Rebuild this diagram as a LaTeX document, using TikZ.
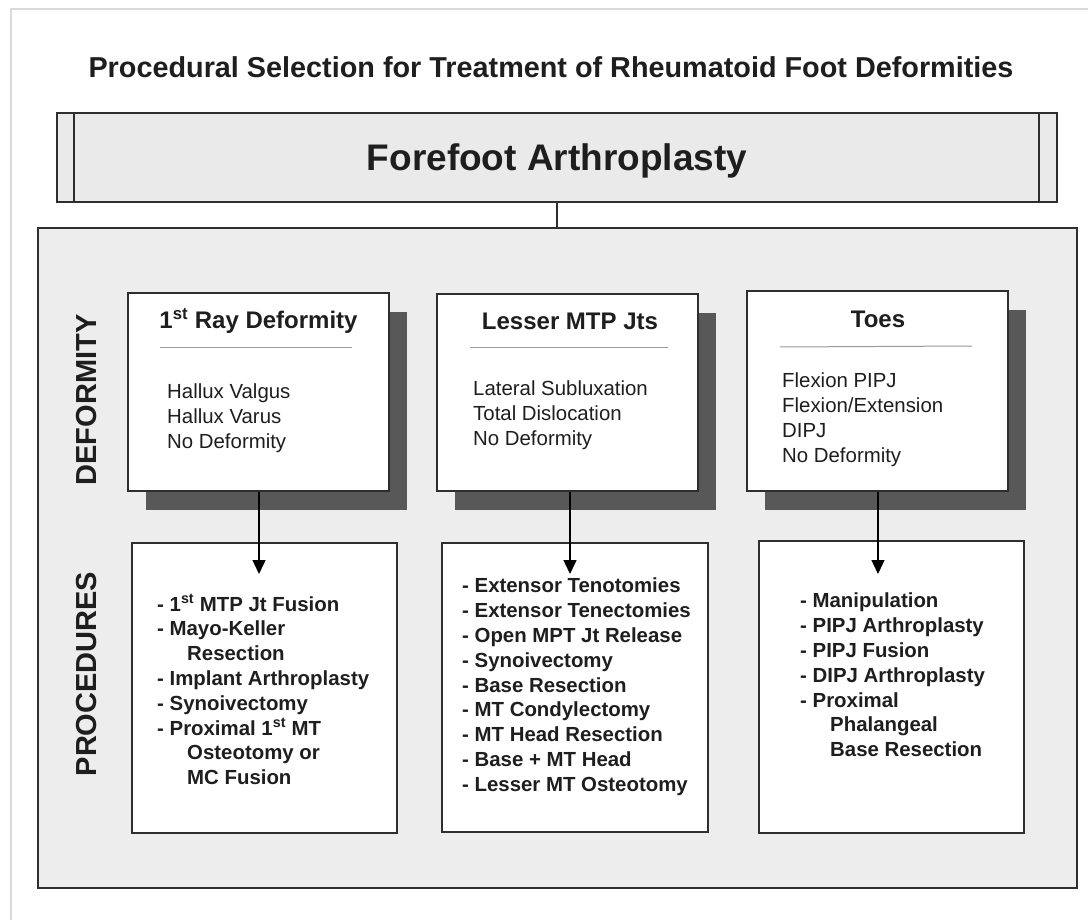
\documentclass[tikz,border=0pt]{standalone}
\usepackage{fontspec}
\setmainfont{Liberation Sans}
\usetikzlibrary{shadows,arrows.meta,calc}
\definecolor{panelc}{HTML}{EDEDED}
\definecolor{bannerc}{HTML}{EAEAEA}
\definecolor{shadowc}{HTML}{585858}
\definecolor{linec}{HTML}{2E2E2E}
\definecolor{textc}{HTML}{1E1E1E}
\definecolor{framec}{HTML}{DADADA}
\definecolor{sepc}{HTML}{9A9A9A}
\tikzset{
  frameline/.style={draw=framec, line width=1.5pt},
  pagetitle/.style={font=\bfseries\fontsize{28.8}{34}\selectfont, text=textc, inner sep=0pt},
  banner/.style={draw=linec, line width=2pt, fill=bannerc, minimum width=1000pt, minimum height=89pt, inner sep=0pt},
  bannertext/.style={font=\bfseries\fontsize{37}{44}\selectfont, text=textc, inner sep=0pt},
  panel/.style={draw=linec, line width=1.5pt, fill=panelc, minimum width=1039pt, minimum height=660pt, inner sep=0pt},
  defbox/.style={draw=linec, line width=1.5pt, fill=white, inner sep=0pt,
     drop shadow={shadow xshift=18pt, shadow yshift=-19pt, fill=shadowc, opacity=1}},
  procbox/.style={draw=linec, line width=1.5pt, fill=white, inner sep=0pt},
  dtitle/.style={font=\bfseries\fontsize{24}{28}\selectfont, text=textc, inner sep=0pt},
  items/.style={font=\fontsize{20.4}{24.8}\selectfont, text=textc, align=left, inner sep=0pt, anchor=north west},
  plist/.style={font=\bfseries\fontsize{20.4}{24.8}\selectfont, text=textc, align=left, inner sep=0pt, anchor=north west},
  vlabel/.style={font=\bfseries\fontsize{29}{34}\selectfont, text=textc, rotate=90, inner sep=0pt},
  sepline/.style={draw=sepc, line width=1pt},
  conn/.style={draw=linec, line width=1.5pt},
  arr/.style={draw=black, line width=1.5pt, -{Triangle[length=14pt,width=13pt]}}
}
\newcommand{\ind}{\hspace*{30pt}}
\begin{document}
\begin{tikzpicture}[x=1pt,y=-1pt]
\useasboundingbox (0,0) rectangle (1088,920);
\fill[white] (0,0) rectangle (1088,920);
% faint page frame
\draw[frameline] (11,920) -- (11,9) -- (1088,9);

\node[pagetitle] (ttl) at (551,67) {Procedural Selection for Treatment of Rheumatoid Foot Deformities};

\node[banner] (ban) at (557,157.5) {};
\node[bannertext] (bant) at (557,161) {Forefoot Arthroplasty};
\draw[conn] ($(ban.north west)+(18,0)$) -- ($(ban.south west)+(18,0)$);
\draw[conn] ($(ban.north east)+(-19,0)$) -- ($(ban.south east)+(-19,0)$);

\node[panel] (pan) at (557.5,558) {};
\draw[conn] (ban.south) -- (ban.south |- pan.north);

\node[vlabel] (vl1) at (87,400) {DEFORMITY};
\node[vlabel] (vl2) at (87,674) {PROCEDURES};

% deformity boxes
\node[defbox, minimum width=261pt, minimum height=198pt] (d1) at (258.5,392) {};
\node[defbox, minimum width=261pt, minimum height=197pt] (d2) at (567.5,392.5) {};
\node[defbox, minimum width=261pt, minimum height=200pt] (d3) at (877.5,391) {};

\node[dtitle] (t1) at (258.5,321) {1\textsuperscript{st} Ray Deformity};
\node[dtitle] (t2) at (570,321) {Lesser MTP Jts};
\node[dtitle] (t3) at (878,319) {Toes};

\draw[sepline] (160,348) -- (352,348);
\draw[sepline] (470,348) -- (668,348);
\draw[sepline] (780,347) -- (972,346);

\node[items] (i1) at (167,384) {Hallux Valgus\\Hallux Varus\\No Deformity};
\node[items] (i2) at (473,381) {Lateral Subluxation\\Total Dislocation\\No Deformity};
\node[items] (i3) at (782,373) {Flexion PIPJ\\Flexion/Extension\\DIPJ\\No Deformity};

% procedure boxes
\node[procbox, minimum width=265pt, minimum height=290pt] (p1) at (264.5,688) {};
\node[procbox, minimum width=266pt, minimum height=289pt] (p2) at (575,687.5) {};
\node[procbox, minimum width=265pt, minimum height=292pt] (p3) at (891.5,687) {};

\node[plist] (l1) at (157,594) {- 1\textsuperscript{st} MTP Jt Fusion\\- Mayo-Keller\\\ind Resection\\- Implant Arthroplasty\\- Synoivectomy\\- Proximal 1\textsuperscript{st} MT\\\ind Osteotomy or\\\ind MC Fusion};
\node[plist] (l2) at (462,578) {- Extensor Tenotomies\\- Extensor Tenectomies\\- Open MPT Jt Release\\- Synoivectomy\\- Base Resection\\- MT Condylectomy\\- MT Head Resection\\- Base + MT Head\\- Lesser MT Osteotomy};
\node[plist] (l3) at (800,593) {- Manipulation\\- PIPJ Arthroplasty\\- PIPJ Fusion\\- DIPJ Arthroplasty\\- Proximal\\\ind Phalangeal\\\ind Base Resection};

% arrows
\coordinate (a1) at (259,574);
\coordinate (a2) at (570,574);
\coordinate (a3) at (878,574);
\draw[arr] (d1.south -| a1) -- (a1);
\draw[arr] (d2.south -| a2) -- (a2);
\draw[arr] (d3.south -| a3) -- (a3);
\end{tikzpicture}
\end{document}
